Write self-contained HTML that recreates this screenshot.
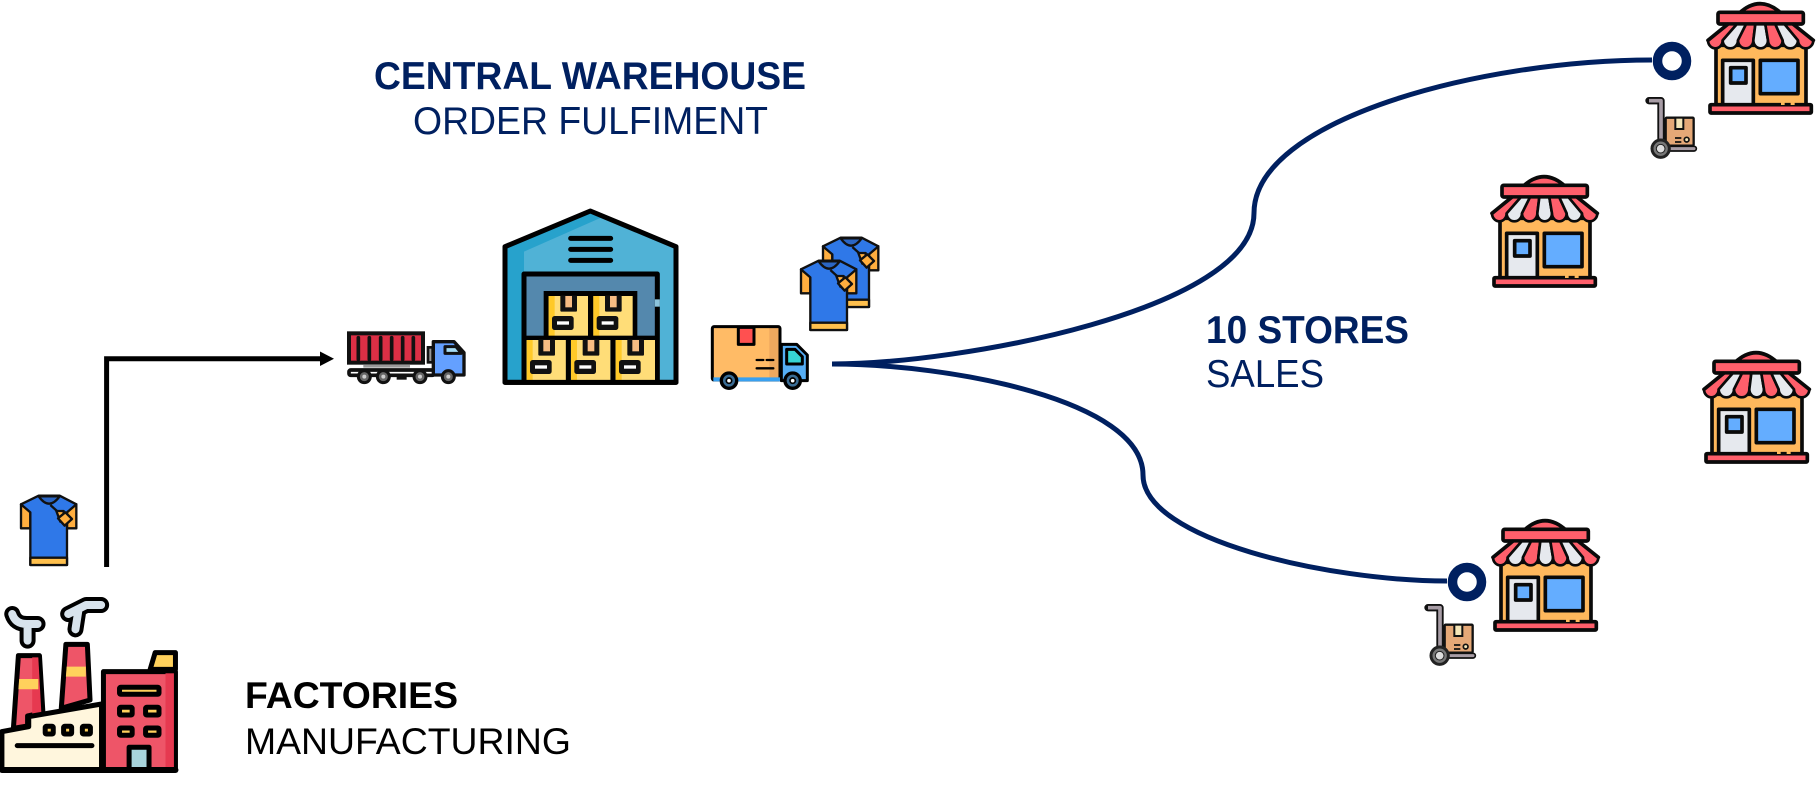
<!DOCTYPE html>
<html>
<head>
<meta charset="utf-8">
<style>
html,body{margin:0;padding:0;background:#fff;width:1819px;height:787px;overflow:hidden}
svg{display:block}
text{font-family:"Liberation Sans",Arial,sans-serif}
.nv *{vector-effect:non-scaling-stroke}
</style>
</head>
<body>
<svg width="1819" height="787" viewBox="0 0 1819 787" xmlns="http://www.w3.org/2000/svg">
<defs>
<g id="store" stroke="#0a0a0a" stroke-linejoin="round">
  <rect x="90" y="175" width="270" height="180" fill="#FFB85C" stroke-width="11"/>
  <path d="M158,80 Q222,20 287,80 Z" fill="#FF5F6B" stroke-width="11"/>
  <rect x="96" y="76" width="256" height="35" rx="5" fill="#FF5F6B" stroke-width="11"/>
  <path d="M125,112 L66,160 A22,24 0 0 0 110,160 L152,112 Z" fill="#FF5F6B" stroke-width="8"/>
  <path d="M152,112 L110,160 A23,24 0 0 0 156,160 L180,112 Z" fill="#E6E9EE" stroke-width="8"/>
  <path d="M180,112 L156,160 A23,24 0 0 0 202,160 L208,112 Z" fill="#FF5F6B" stroke-width="8"/>
  <path d="M208,112 L202,160 A22,24 0 0 0 246,160 L238,112 Z" fill="#E6E9EE" stroke-width="8"/>
  <path d="M238,112 L246,160 A22,24 0 0 0 290,160 L268,112 Z" fill="#FF5F6B" stroke-width="8"/>
  <path d="M268,112 L290,160 A23,24 0 0 0 336,160 L296,112 Z" fill="#E6E9EE" stroke-width="8"/>
  <path d="M296,112 L336,160 A23,24 0 0 0 382,160 L322,112 Z" fill="#FF5F6B" stroke-width="8"/>
  <path d="M125,112 L66,160 M322,112 L382,160" fill="none" stroke-width="11" stroke-linecap="round"/>
  <rect x="110" y="220" width="92" height="134" fill="#E6E9EE" stroke-width="11"/>
  <rect x="134" y="242" width="46" height="46" fill="#64ADFF" stroke-width="11"/>
  <rect x="223" y="220" width="113" height="100" fill="#64ADFF" stroke-width="11"/>
  <rect x="72" y="353" width="304" height="25" rx="3" fill="#FF5F6B" stroke-width="11"/>
  <path d="M285,350 H296 M314,350 H326" stroke="#FFB85C" stroke-width="8"/>
</g>
<g id="cart">
  <path d="M87,301 H123 V420" fill="none" stroke="#111" stroke-width="22" stroke-linejoin="round" stroke-linecap="round"/>
  <path d="M87,301 H123 V420" fill="none" stroke="#A79CA5" stroke-width="11" stroke-linejoin="round"/>
  <rect x="137" y="352" width="84" height="84" rx="3" fill="#E5A877" stroke="#111" stroke-width="7"/>
  <rect x="166" y="352" width="24" height="34" fill="#F5E6B8" stroke="#111" stroke-width="6"/>
  <path d="M165,413 H184 M165,425 H184" stroke="#111" stroke-width="5"/>
  <circle cx="200" cy="418" r="7" fill="#F5E6B8" stroke="#111" stroke-width="5"/>
  <path d="M150,445 H222" stroke="#111" stroke-width="19" stroke-linecap="round"/>
  <path d="M150,445 H222" stroke="#A79CA5" stroke-width="9" stroke-linecap="round"/>
  <circle cx="122" cy="445" r="26" fill="#777" stroke="#222" stroke-width="9"/>
  <circle cx="122" cy="445" r="13" fill="#ddd" stroke="#222" stroke-width="3"/>
</g>
<g id="shirt" stroke="#111" stroke-width="7" stroke-linejoin="round">
  <path d="M62,148 L90,170 V220 H62 Z" fill="#FFAE3F"/>
  <path d="M228,148 L200,170 V220 H228 Z" fill="#FFAE3F"/>
  <path d="M115,122 H178 L228,148 L200,172 V330 H90 V172 L62,148 Z" fill="#2F78E8"/>
  <rect x="90" y="308" width="110" height="22" fill="#FFC04D"/>
  <path d="M115,124 Q146,168 178,124 Z" fill="#2B66C4"/>
  <path d="M150,150 L170,168" fill="none"/>
  <path d="M168,168 H190 V190 L180,200 Z" fill="#FFAE3F"/>
  <path d="M195,172 L215,192 L193,212 L173,190 Z" fill="#FFAE3F"/>
</g>
<g id="box">
  <rect x="0" y="0" width="118" height="120" fill="#FFDD78"/>
  <rect x="0" y="0" width="18" height="120" fill="#FFC928"/>
  <rect x="35" y="-2" width="50" height="49" rx="4" fill="#111"/>
  <rect x="50" y="0" width="20" height="34" fill="#F7BC83"/>
  <rect x="10" y="60" width="65" height="42" rx="8" fill="#111"/>
  <rect x="25" y="76" width="36" height="10" fill="#fff"/>
</g>
</defs>

<!-- black arrow -->
<path d="M106.6,567 V358.7 H322" fill="none" stroke="#000" stroke-width="5"/>
<path d="M320,351.5 L334,358.7 L320,366 Z" fill="#000"/>

<!-- navy curves -->
<g fill="none" stroke="#002060" stroke-width="5">
  <path d="M832,364 C960,364 1254,310 1254,213 C1254,120 1480,60 1652,60"/>
  <path d="M832,364 C950,364 1143,400 1143,475 C1143,540 1330,581 1447,581"/>
  <circle cx="1672" cy="61" r="14.5" stroke-width="9.5" fill="#fff"/>
  <circle cx="1467" cy="582" r="14.5" stroke-width="9.5" fill="#fff"/>
</g>

<!-- text -->
<g fill="#002060">
  <text x="374" y="89" font-size="38.5" font-weight="700" textLength="432" lengthAdjust="spacingAndGlyphs">CENTRAL WAREHOUSE</text>
  <text x="413" y="134" font-size="38.5" textLength="355" lengthAdjust="spacingAndGlyphs">ORDER FULFIMENT</text>
  <text x="1206" y="343" font-size="38.5" font-weight="700" textLength="203" lengthAdjust="spacingAndGlyphs">10 STORES</text>
  <text x="1206" y="387" font-size="38.5" textLength="118" lengthAdjust="spacingAndGlyphs">SALES</text>
</g>
<g fill="#000">
  <text x="245" y="708" font-size="37" font-weight="700" textLength="213" lengthAdjust="spacingAndGlyphs">FACTORIES</text>
  <text x="245" y="754" font-size="37" textLength="326" lengthAdjust="spacingAndGlyphs">MANUFACTURING</text>
</g>

<!-- stores -->
<use href="#store" transform="translate(1706,3) scale(.3333) translate(-60,-48)"/>
<use href="#store" transform="translate(1490,176) scale(.3333) translate(-60,-48)"/>
<use href="#store" transform="translate(1702,352) scale(.3333) translate(-60,-48)"/>
<use href="#store" transform="translate(1491,520) scale(.3333) translate(-60,-48)"/>

<!-- carts -->
<use href="#cart" transform="translate(1646,97) scale(.3333) translate(-78,-290)"/>
<use href="#cart" transform="translate(1425,604) scale(.3333) translate(-78,-290)"/>

<!-- shirts -->
<use href="#shirt" transform="translate(823,237) scale(.3333) translate(-62,-120)"/>
<use href="#shirt" transform="translate(801,260) scale(.3333) translate(-62,-120)"/>
<use href="#shirt" transform="translate(21,495) scale(.3333) translate(-62,-120)"/>

<!-- warehouse + trucks in crop coordinates -->
<g transform="translate(330,190) scale(.33333)">
  <!-- red truck -->
  <rect x="57" y="430" width="222" height="88" fill="#DC2F45" stroke="#111" stroke-width="12"/>
  <path d="M85,443 V508 M118,443 V508 M152,443 V508 M185,443 V508 M218,443 V508 M250,443 V508" stroke="#111" stroke-width="11" stroke-linecap="round"/>
  <rect x="294" y="472" width="14" height="45" fill="#999" stroke="#111" stroke-width="8"/>
  <rect x="57" y="540" width="255" height="16" rx="5" fill="#fff" stroke="#111" stroke-width="11"/>
  <path d="M100,529 H240" stroke="#999" stroke-width="8"/>
  <path d="M310,455 H372 L402,488 V555 H310 Z" fill="#64A0FF" stroke="#111" stroke-width="10" stroke-linejoin="round"/>
  <path d="M345,470 H378 L394,490 H345 Z" fill="#A6DCF5" stroke="#111" stroke-width="9" stroke-linejoin="round"/>
  <g fill="#666" stroke="#111" stroke-width="9">
    <circle cx="103" cy="560" r="18"/><circle cx="160" cy="560" r="18"/><circle cx="270" cy="560" r="18"/><circle cx="355" cy="560" r="18"/>
  </g>
  <g fill="#ccc"><circle cx="103" cy="560" r="6"/><circle cx="160" cy="560" r="6"/><circle cx="270" cy="560" r="6"/><circle cx="355" cy="560" r="6"/></g>
  <path d="M200,565 H230" stroke="#111" stroke-width="8"/>

  <!-- warehouse -->
  <path d="M525,170 L781,63 L1038,170 V577 H525 Z" fill="#50B2D6"/>
  <path d="M527,172 L781,66 L815,82 L582,185 V575 H527 Z" fill="#27A2CC"/>
  <path d="M525,170 L781,63 L1038,170 V577 H525 Z" fill="none" stroke="#000" stroke-width="15" stroke-linejoin="round"/>
  <path d="M722,145 H842 M722,178 H842 M722,211 H842" stroke="#000" stroke-width="15" stroke-linecap="round"/>
  <rect x="582" y="252" width="400" height="325" fill="#5488AD"/>
  <path d="M582,577 V252 H982 V577" fill="none" stroke="#000" stroke-width="15" stroke-linejoin="round"/>
  <path d="M982,328 V350" stroke="#8CC3DC" stroke-width="15"/>
  <rect x="648" y="310" width="267" height="133" fill="#000" stroke="#000" stroke-width="14"/>
  <use href="#box" transform="translate(656,318)"/>
  <use href="#box" transform="translate(790,318)"/>
  <rect x="582" y="437" width="400" height="14" fill="#000"/>
  <use href="#box" transform="translate(590,450)"/>
  <use href="#box" transform="translate(723,450)"/>
  <use href="#box" transform="translate(857,450)"/>
  <path d="M715,443 V577 M849,443 V577" stroke="#000" stroke-width="15"/>
  <path d="M525,577 H1038" stroke="#000" stroke-width="15" stroke-linecap="round"/>

  <!-- delivery truck -->
  <rect x="1147" y="410" width="203" height="160" rx="5" fill="#FFBB66"/>
  <rect x="1318" y="412" width="30" height="156" fill="#EEA85E"/>
  <rect x="1147" y="410" width="203" height="160" rx="5" fill="none" stroke="#000" stroke-width="9"/>
  <path d="M1225,412 V463 H1272 V412 Z" fill="#FF5050" stroke="#000" stroke-width="9" stroke-linejoin="round"/>
  <path d="M1280,510 H1300 M1310,510 H1330 M1280,535 H1330" stroke="#000" stroke-width="7" stroke-linecap="round"/>
  <path d="M1354,463 H1400 L1432,495 V572 H1354 Z" fill="#55AEF5" stroke="#000" stroke-width="9" stroke-linejoin="round"/>
  <path d="M1370,478 H1395 L1417,500 V522 H1370 Z" fill="#36D4D4" stroke="#000" stroke-width="9" stroke-linejoin="round"/>
  <path d="M1150,568 H1350" stroke="#38A0F0" stroke-width="12"/>
  <circle cx="1197" cy="572" r="23" fill="#3A6C94" stroke="#000" stroke-width="10"/>
  <circle cx="1197" cy="572" r="8" fill="#fff" stroke="#000" stroke-width="5"/>
  <circle cx="1388" cy="572" r="23" fill="#3A6C94" stroke="#000" stroke-width="10"/>
  <circle cx="1388" cy="572" r="8" fill="#fff" stroke="#000" stroke-width="5"/>
</g>

<!-- factory (crop coordinates, non-uniform) -->
<g class="nv" transform="translate(0,470) scale(.3831,.3333)" stroke="#000" stroke-width="5" stroke-linejoin="round">
  <path d="M48,557 H103 L112,728 L72,738 V768 L35,775 Z" fill="#EE5568"/>
  <path d="M84,562 H100 L108,730 L84,736 Z" fill="#E63950" stroke="none"/>
  <path d="M50,627 H100 V658 H48 Z" fill="#FFD15C" stroke="none"/>
  <path d="M172,523 H228 L235,690 L160,715 Z" fill="#EE5568"/>
  <path d="M174,590 H224 V620 H172 Z" fill="#FFD15C" stroke="none"/>
  <path d="M392,598 L405,548 H458 V598 Z" fill="#FFD15C"/>
  <rect x="270" y="605" width="188" height="295" fill="#EE5568"/>
  <rect x="432" y="610" width="22" height="285" fill="#E63950" stroke="none"/>
  <path d="M5,785 L75,770 V740 L265,702 V900 H5 Z" fill="#FFF6DD"/>
  <rect x="312" y="652" width="103" height="21" rx="3" fill="#FFD15C"/>
  <rect x="312" y="712" width="33" height="23" rx="3" fill="#FFD15C"/>
  <rect x="380" y="712" width="35" height="23" rx="3" fill="#FFD15C"/>
  <rect x="312" y="774" width="33" height="22" rx="3" fill="#FFD15C"/>
  <rect x="380" y="774" width="35" height="22" rx="3" fill="#FFD15C"/>
  <rect x="337" y="832" width="52" height="68" fill="#A8D4DC"/>
  <rect x="118" y="769" width="21" height="23" rx="3" fill="#FFD15C"/>
  <rect x="166" y="769" width="21" height="23" rx="3" fill="#FFD15C"/>
  <rect x="215" y="769" width="21" height="23" rx="3" fill="#FFD15C"/>
  <path d="M45,827 H240" fill="none" stroke-linecap="round"/>
  <path d="M5,900 H458" fill="none" stroke-width="6" stroke-linecap="round"/>
  <path d="M32,432 Q40,462 70,462 H98 M72,465 V512" fill="none" stroke-width="16" stroke-linecap="round"/>
  <path d="M32,432 Q40,462 70,462 H98 M72,465 V512" fill="none" stroke="#D8E3EC" stroke-width="8" stroke-linecap="round"/>
  <path d="M264,405 H225 L178,432 M205,418 L197,478" fill="none" stroke-width="16" stroke-linecap="round"/>
  <path d="M264,405 H225 L178,432 M205,418 L197,478" fill="none" stroke="#D8E3EC" stroke-width="8" stroke-linecap="round"/>
</g>
</svg>
</body>
</html>
